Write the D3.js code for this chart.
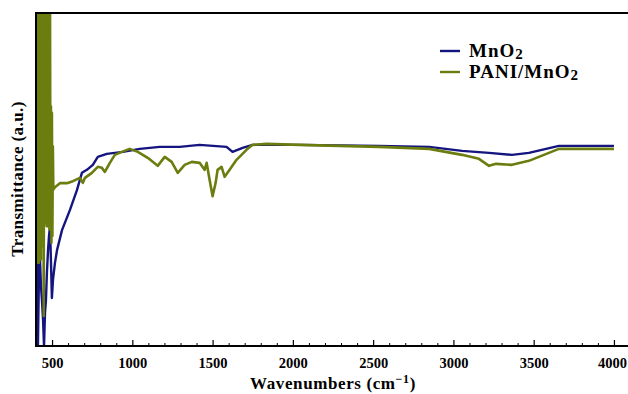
<!DOCTYPE html>
<html>
<head>
<meta charset="utf-8">
<script src="https://cdn.jsdelivr.net/npm/d3@7"></script>
<style>
  body { margin: 0; background: #fff; }
  text { font-family: "Liberation Serif", "DejaVu Serif", serif; font-weight: bold; }
</style>
</head>
<body>
<div id="chart"></div>
<script>
// wavenumbers (cm-1) and transmittance (a.u.)
var mnoWave = [400, 406, 412, 418, 425, 431, 437, 444, 450, 456, 462, 468, 475, 481, 487, 493, 499, 506, 518, 531, 562, 611, 655, 686, 717, 754, 785, 841, 941, 1046, 1171, 1295, 1419, 1587, 1624, 1687, 1749, 2041, 2538, 2849, 3054, 3222, 3365, 3470, 3657, 4000];
var mnoT = [43.8, 85.9, 0, 20, 25.8, 18, 13.8, 7.8, 0, 10, 13.8, 22, 28.8, 33, 35.7, 25.8, 14.4, 20, 24.9, 28.8, 34.8, 40.8, 46.8, 52.0, 52.9, 54.4, 56.8, 57.7, 58.3, 59.2, 59.8, 59.8, 60.4, 59.8, 58.3, 59.5, 60.4, 60.4, 60.1, 59.8, 58.6, 58.0, 57.4, 58.0, 60.1, 60.1];

// the PANI/MnO2 trace is very noisy below ~510 cm-1 (runs off the top of the box)
var paniWave = [400, 403, 406, 409, 412, 415, 418, 421, 424, 427, 430, 433, 436, 439, 442, 445, 448, 451, 454, 457, 460, 463, 466, 469, 472, 475, 478, 481, 484, 487, 490, 493, 496, 499, 502, 505, 508,
  518, 549, 593, 630, 673, 692, 705, 748, 785, 810, 829, 860, 891, 934, 984, 1034, 1096, 1158, 1202, 1245, 1283, 1326, 1370, 1419, 1450, 1463, 1481, 1500, 1519, 1531, 1556, 1575, 1606, 1649, 1711, 1749, 1836, 2041, 2538, 2849, 3054, 3159, 3222, 3266, 3365, 3470, 3657, 4000];
var paniT = [60, 110, 25, 110, 26, 110, 25, 110, 27, 110, 26, 110, 30, 110, 32, 110, 9, 110, 37, 110, 38, 110, 36, 110, 37, 110, 36, 110, 35, 110, 37, 72, 31, 70, 33, 60, 47,
  47.7, 48.9, 48.9, 49.5, 50.5, 49.0, 50.5, 52.0, 53.8, 53.5, 52.3, 55.0, 57.4, 58.3, 59.2, 58.3, 56.5, 54.1, 56.8, 55.3, 52.0, 54.4, 55.3, 55.0, 52.9, 55.0, 50, 45.0, 49, 52.9, 53.8, 50.8, 52.9, 55.9, 58.9, 60.4, 60.7, 60.4, 59.8, 59.2, 57.4, 56.2, 54.1, 54.7, 54.4, 55.6, 59.2, 59.2];

var seriesNames = ["MnO", "PANI/MnO"];
var seriesColors = ["#15157f", "#6b7d0e"];
var xTicks = [500, 1000, 1500, 2000, 2500, 3000, 3500, 4000];

var svgWidth = 628;
var svgHeight = 394;

// plot box (right edge runs past the window)
var plotLeft = 36, plotTop = 13, plotBottom = 346, plotRight = 630;

var svg = d3.select("#chart")
  .append("svg")
  .attr("width", svgWidth)
  .attr("height", svgHeight);

var x = d3.scaleLinear().domain([400, 4100]).range([plotLeft, plotRight]);
var y = d3.scaleLinear().domain([0, 100]).range([plotBottom, plotTop]);

svg.append("clipPath")
  .attr("id", "plotclip")
  .append("rect")
  .attr("x", plotLeft)
  .attr("y", plotTop)
  .attr("width", plotRight - plotLeft)
  .attr("height", plotBottom - plotTop);

var line = d3.line()
  .x(d => x(d[0]))
  .y(d => y(d[1]));

var mnoData = d3.zip(mnoWave, mnoT);
var paniData = d3.zip(paniWave, paniT);

var plot = svg.append("g").attr("clip-path", "url(#plotclip)");

plot.append("path")
  .datum(mnoData)
  .attr("d", line)
  .attr("fill", "none")
  .attr("stroke", seriesColors[0])
  .attr("stroke-width", 2.4)
  .attr("stroke-linejoin", "round");

plot.append("path")
  .datum(paniData)
  .attr("d", line)
  .attr("fill", "none")
  .attr("stroke", seriesColors[1])
  .attr("stroke-width", 2.6)
  .attr("stroke-linejoin", "round");

//bottom axis, ticks pointing inward
var minor = d3.range(400, 4101, 100).filter(v => v % 500 !== 0);
svg.append("g")
  .attr("transform", "translate(0," + plotBottom + ")")
  .call(d3.axisBottom(x).tickValues(minor).tickSize(-3).tickFormat(""))
  .call(g => g.select(".domain").remove())
  .selectAll("line").attr("stroke", "#000").attr("stroke-width", 1);

var xAxis = svg.append("g")
  .attr("transform", "translate(0," + plotBottom + ")")
  .call(d3.axisBottom(x).tickValues(xTicks).tickSize(-6).tickPadding(12).tickFormat(d3.format("d")));
xAxis.select(".domain").remove();
xAxis.selectAll("line").attr("stroke", "#000").attr("stroke-width", 1.2);
xAxis.selectAll("text")
  .attr("fill", "#000")
  .style("font-size", "14.5px")
  .style("font-family", "'Liberation Serif', serif")
  .style("font-weight", "bold");
// keep the last label inside the window
xAxis.selectAll("text").filter(d => d === 4000).attr("dx", -2);

//frame lines
svg.append("line").attr("x1", plotLeft).attr("x2", plotRight).attr("y1", plotBottom).attr("y2", plotBottom)
  .attr("stroke", "#000").attr("stroke-width", 2);
svg.append("line").attr("x1", plotLeft).attr("x2", plotRight).attr("y1", plotTop).attr("y2", plotTop)
  .attr("stroke", "#000").attr("stroke-width", 2);
svg.append("line").attr("x1", plotLeft).attr("x2", plotLeft).attr("y1", plotTop - 1).attr("y2", plotBottom + 1)
  .attr("stroke", "#000").attr("stroke-width", 2);

//axis titles
var xt = svg.append("text")
  .attr("x", 333)
  .attr("y", 389)
  .attr("text-anchor", "middle")
  .style("font-size", "17px")
  .style("letter-spacing", "0.6px");
xt.append("tspan").text("Wavenumbers (cm");
xt.append("tspan").attr("dy", -6).style("font-size", "12px").text("\u2212");
xt.append("tspan").style("font-size", "12px").text("1");
xt.append("tspan").attr("dy", 6).text(")");

svg.append("text")
  .attr("transform", "translate(23,179) rotate(-90)")
  .attr("text-anchor", "middle")
  .style("font-size", "17px")
  .style("letter-spacing", "0.4px")
  .text("Transmittance (a.u.)");

//legend
var legend = svg.append("g");
seriesNames.forEach(function(name, i) {
  var ly = 51 + i * 21;
  legend.append("line")
    .attr("x1", 440).attr("x2", 460)
    .attr("y1", ly).attr("y2", ly)
    .attr("stroke", seriesColors[i])
    .attr("stroke-width", 2.4);
  var t = legend.append("text")
    .attr("x", 469)
    .attr("y", ly + 6)
    .style("font-size", "19px")
    .style("letter-spacing", "1px");
  t.append("tspan").text(name);
  t.append("tspan").attr("dy", 2).style("font-size", "15px").text("2");
});
</script>
</body>
</html>
